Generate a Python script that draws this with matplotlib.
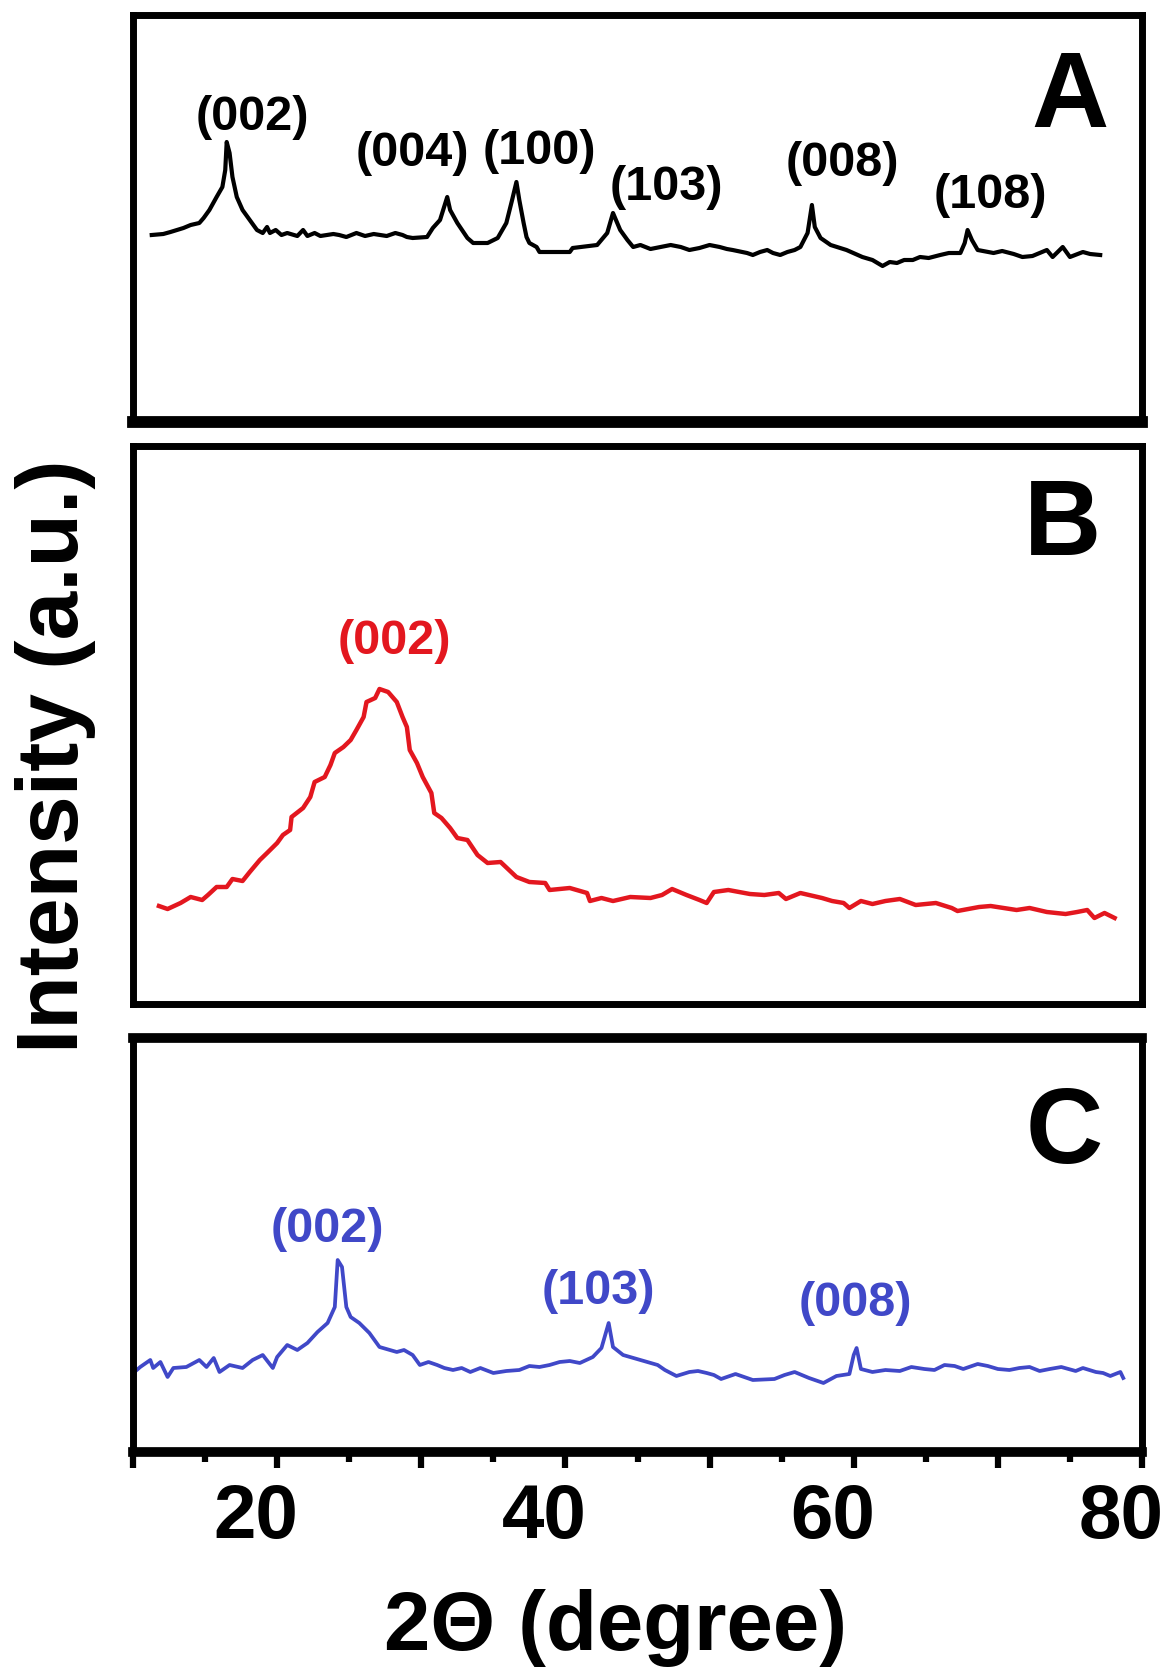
import matplotlib
matplotlib.use("Agg")
import matplotlib.pyplot as plt
from matplotlib.ticker import MultipleLocator, FuncFormatter
from matplotlib.transforms import ScaledTranslation

plt.rcParams["font.family"] = ["Liberation Sans", "DejaVu Sans"]
plt.rcParams["font.weight"] = "bold"

# ----------------------------------------------------------
# data (2 theta in degree, a.u.)
# ----------------------------------------------------------

A_x = [11.3, 12.1, 12.6, 13.5, 14.0, 14.6, 14.9, 15.3, 15.8, 16.2,
       16.4, 16.5, 16.7, 16.9, 17.2, 17.6, 18.1, 18.6, 19.0, 19.3,
       19.5, 19.9, 20.3, 20.7, 21.4, 21.8, 22.1, 22.6, 23.0, 23.9,
       24.3, 24.8, 25.5, 26.1, 26.7, 27.6, 28.2, 28.7, 29.0, 29.4,
       30.4, 30.8, 31.3, 31.8, 32.0, 32.5, 33.2, 33.6, 34.6, 35.3,
       35.9, 36.3, 36.6, 36.8, 37.1, 37.3, 37.5, 38.0, 38.2, 40.3,
       40.5, 42.2, 42.9, 43.3, 43.8, 44.3, 44.7, 45.2, 45.9, 46.6,
       47.3, 48.0, 48.6, 49.3, 50.0, 50.7, 51.2, 51.6, 52.6, 53.0,
       53.5, 54.0, 54.4, 54.9, 55.4, 55.9, 56.3, 56.8, 57.1, 57.3,
       57.7, 58.4, 59.5, 60.6, 61.3, 62.0, 62.5, 63.0, 63.5, 64.1,
       64.6, 65.2, 66.0, 66.6, 67.4, 67.7, 67.9, 68.2, 68.6, 69.7,
       70.3, 71.1, 71.7, 72.4, 72.9, 73.4, 73.8, 74.5, 75.0, 75.9,
       76.4, 77.1]
A_y = [185, 186, 188, 192, 195, 197, 202, 210, 223, 233,
       250, 278, 267, 243, 223, 210, 200, 190, 187, 193,
       187, 190, 185, 187, 184, 190, 184, 187, 184, 186,
       185, 183, 187, 184, 186, 184, 187, 185, 183, 182,
       183, 192, 200, 223, 210, 197, 182, 177, 177, 182,
       197, 220, 238, 220, 197, 183, 177, 173, 168, 168,
       172, 175, 187, 207, 190, 180, 173, 175, 171, 173,
       175, 173, 170, 172, 175, 173, 171, 170, 167, 165,
       168, 170, 167, 165, 168, 170, 173, 187, 215, 193,
       182, 175, 170, 163, 160, 154, 158, 157, 160, 160,
       163, 162, 165, 167, 167, 177, 190, 180, 170, 167,
       169, 166, 163, 164, 167, 170, 163, 173, 163, 168,
       166, 165]

B_x = [11.8, 12.4, 13.3, 14.0, 14.8, 15.2, 15.8, 16.5, 16.9, 17.6,
       18.1, 18.8, 19.3, 20.0, 20.4, 20.9, 21.0, 21.8, 22.3, 22.6,
       23.3, 23.7, 24.0, 24.6, 25.1, 25.5, 26.0, 26.2, 26.8, 27.1,
       27.7, 28.3, 28.7, 29.0, 29.2, 29.7, 30.1, 30.7, 30.9, 31.4,
       32.0, 32.5, 33.2, 33.9, 34.6, 35.5, 36.6, 37.5, 38.6, 38.9,
       40.3, 41.5, 41.7, 42.5, 43.3, 44.5, 45.9, 46.7, 47.4, 48.4,
       49.3, 49.8, 50.3, 51.3, 52.8, 53.8, 54.8, 55.3, 56.3, 57.8,
       58.5, 59.3, 59.7, 60.5, 61.3, 62.2, 63.2, 64.3, 65.7, 66.8,
       67.2, 68.7, 69.5, 70.4, 71.3, 72.2, 73.4, 74.7, 75.5, 76.2,
       76.7, 77.4, 78.1]
B_y = [99, 96, 102, 108, 105, 110, 118, 118, 126, 124,
       133, 145, 152, 162, 170, 175, 188, 197, 208, 223,
       228, 240, 252, 258, 265, 275, 288, 303, 307, 316,
       313, 303, 288, 278, 255, 242, 228, 212, 192, 187,
       177, 167, 165, 150, 142, 143, 128, 123, 122, 115,
       117, 112, 104, 107, 104, 108, 107, 110, 116, 110,
       105, 102, 113, 115, 111, 110, 112, 106, 112, 107,
       104, 102, 97, 104, 101, 104, 106, 100, 102, 97,
       94, 98, 99, 97, 95, 97, 93, 91, 93, 95,
       87, 92, 87]

C_x = [10.1, 10.5, 11.2, 11.4, 11.9, 12.4, 12.8, 13.7, 14.6, 15.1,
       15.6, 16.0, 16.7, 17.6, 18.3, 19.0, 19.7, 20.0, 20.7, 21.4,
       22.1, 22.8, 23.5, 24.0, 24.2, 24.5, 24.8, 25.1, 25.7, 26.4,
       27.1, 28.3, 28.8, 29.4, 29.9, 30.5, 31.1, 31.6, 32.2, 32.8,
       33.4, 34.1, 35.0, 35.9, 36.8, 37.5, 38.2, 38.9, 39.6, 40.3,
       41.0, 41.9, 42.5, 43.0, 43.3, 44.0, 45.2, 46.4, 46.9, 47.7,
       48.6, 49.2, 49.8, 50.3, 50.8, 51.8, 52.4, 53.0, 54.5, 55.2,
       55.9, 56.9, 57.9, 58.8, 59.7, 60.0, 60.2, 60.5, 61.3, 62.2,
       63.2, 64.0, 64.9, 65.6, 66.3, 67.0, 67.6, 68.6, 69.3, 70.0,
       70.8, 71.5, 72.2, 72.9, 73.6, 74.4, 75.4, 75.9, 76.8, 77.3,
       77.8, 78.5, 78.7]
C_y = [78, 83, 90, 82, 88, 73, 82, 83, 90, 83,
       92, 78, 85, 82, 90, 95, 82, 93, 105, 100,
       107, 118, 127, 143, 190, 183, 143, 133, 127, 117,
       103, 98, 100, 95, 85, 88, 85, 82, 80, 82,
       78, 82, 77, 79, 80, 84, 83, 85, 88, 89,
       87, 93, 102, 127, 103, 95, 90, 85, 80, 74,
       78, 79, 77, 75, 71, 76, 73, 70, 71, 75,
       78, 72, 67, 74, 76, 95, 102, 81, 78, 80,
       79, 83, 81, 80, 85, 84, 81, 86, 84, 81,
       80, 82, 83, 79, 81, 83, 79, 82, 78, 77,
       74, 78, 72]

# peak labels
A_labels = ["(002)", "(004)", "(100)", "(103)", "(008)", "(108)"]
A_label_x = [18.3, 29.4, 38.2, 47.0, 59.2, 69.5]
A_label_y = [302, 266, 268, 233, 257, 225]

B_labels = ["(002)"]
B_label_x = [28.1]
B_label_y = [363]

C_labels = ["(002)", "(103)", "(008)"]
C_label_x = [23.5, 42.3, 60.1]
C_label_y = [221, 158, 147]

RED = "#e3171f"
BLUE = "#4048c8"

# ----------------------------------------------------------
# figure and panel boxes (pixel layout of the original)
# ----------------------------------------------------------

W, H = 1162, 1670
fig = plt.figure(figsize=(W / 100, H / 100), dpi=100)


def px_box(left, top, right, bottom):
    return [left / W, 1 - bottom / H, (right - left) / W, (bottom - top) / H]


ax_a = fig.add_axes(px_box(133, 15, 1142, 422))
ax_b = fig.add_axes(px_box(133, 446, 1142, 1004))
ax_c = fig.add_axes(px_box(133, 1038, 1142, 1452))

ax_a.set_ylim(-2, 405)
ax_b.set_ylim(1, 559)
ax_c.set_ylim(-2, 412)

spine_widths = {
    ax_a: {"top": 5, "left": 5, "right": 5, "bottom": 8.5},
    ax_b: {"top": 5, "left": 5, "right": 5, "bottom": 5},
    ax_c: {"top": 7, "left": 5, "right": 5, "bottom": 7},
}

for ax in (ax_a, ax_b, ax_c):
    ax.set_xlim(10, 80)
    ax.set_yticks([])
    for side, lw in spine_widths[ax].items():
        ax.spines[side].set_linewidth(lw)
        ax.spines[side].set_color("black")

ax_a.set_xticks([])
ax_b.set_xticks([])

# ----------------------------------------------------------
# curves
# ----------------------------------------------------------

ax_a.plot(A_x, A_y, color="black", linewidth=3.0)
ax_b.plot(B_x, B_y, color=RED, linewidth=3.2)
ax_c.plot(C_x, C_y, color=BLUE, linewidth=2.7)

for s, x, y in zip(A_labels, A_label_x, A_label_y):
    ax_a.text(x, y, s, fontsize=35, fontweight="bold", color="black",
              ha="center", va="center")

for s, x, y in zip(B_labels, B_label_x, B_label_y):
    ax_b.text(x, y, s, fontsize=35, fontweight="bold", color=RED,
              ha="center", va="center")

for s, x, y in zip(C_labels, C_label_x, C_label_y):
    ax_c.text(x, y, s, fontsize=35, fontweight="bold", color=BLUE,
              ha="center", va="center")

# panel letters
ax_a.text(75.0, 293, "A", fontsize=77, fontweight="bold", ha="center", va="baseline")
ax_b.text(74.45, 450, "B", fontsize=77, fontweight="bold", ha="center", va="baseline")
ax_c.text(74.6, 287, "C", fontsize=77, fontweight="bold", ha="center", va="baseline")

# ----------------------------------------------------------
# x axis of the bottom panel
# ----------------------------------------------------------

ax_c.xaxis.set_major_locator(MultipleLocator(10))
ax_c.xaxis.set_minor_locator(MultipleLocator(5))
ax_c.xaxis.set_major_formatter(
    FuncFormatter(lambda v, p: f"{int(round(v))}" if int(round(v)) % 20 == 0 else "")
)
ax_c.tick_params(axis="x", which="major", direction="out", length=11.5,
                 width=4.5, pad=11, labelsize=55)
ax_c.tick_params(axis="x", which="minor", direction="out", length=7, width=4.5)

shift = ScaledTranslation(-21 / 100, 0, fig.dpi_scale_trans)
for tick in ax_c.xaxis.get_major_ticks():
    tick.label1.set_transform(tick.label1.get_transform() + shift)
    tick.label1.set_fontweight("bold")

fig.text(616 / W, 1 - 1628 / H, "2Θ (degree)", fontsize=60, fontweight="bold",
         ha="center", va="center")
fig.text(56 / W, 1 - 756 / H, "Intensity (a.u.)", fontsize=63, fontweight="bold",
         ha="center", va="center", rotation=90)

fig.savefig("out.png", dpi=100)
